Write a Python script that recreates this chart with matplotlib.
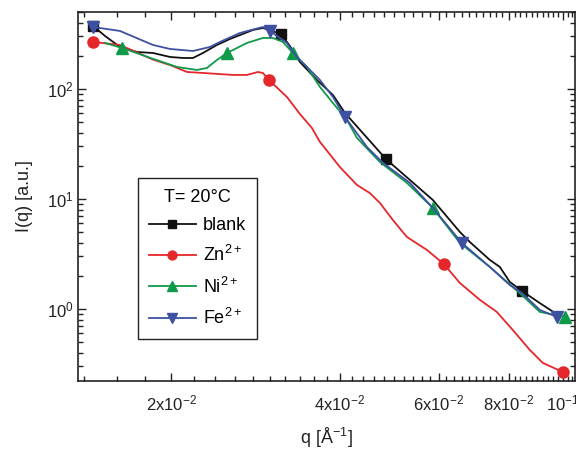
import numpy as np
import matplotlib
matplotlib.use("Agg")
import matplotlib.pyplot as plt
from matplotlib.ticker import FixedLocator, NullFormatter, LogLocator

plt.rcParams['font.family'] = ['Liberation Sans', 'DejaVu Sans']
plt.rcParams['mathtext.default'] = 'regular'

# blank
q_blank = [0.01452, 0.01525, 0.01622, 0.01739, 0.01857, 0.01992, 0.02101, 0.02189, 0.02280,
           0.02415, 0.02548, 0.02800, 0.02917, 0.03141, 0.03259, 0.03395, 0.03641, 0.03889,
           0.04086, 0.04833, 0.05333, 0.05861, 0.06550, 0.06823, 0.07406, 0.07717, 0.08040,
           0.08446, 0.09095, 0.09672]
I_blank = [373.9, 303.3, 240.9, 216.9, 212.4, 195.4, 191.3, 191.3, 212.4,
           251.2, 284.8, 343.9, 358.5, 316.2, 246.0, 176.0, 120.7, 88.2,
           60.5, 23.1, 14.9, 9.79, 5.01, 4.06, 2.79, 2.41, 1.76,
           1.46, 1.13, 0.92]

# Zn2+
q_zn = [0.01452, 0.01622, 0.01857, 0.01992, 0.02136, 0.02280, 0.02579, 0.02732, 0.02858,
        0.02917, 0.02990, 0.03219, 0.03395, 0.03567, 0.03687, 0.04002, 0.04292, 0.04526,
        0.04716, 0.04974, 0.05269, 0.05719, 0.06133, 0.06550, 0.07109, 0.07622, 0.08139,
        0.08727, 0.09206, 0.09995]
I_zn = [267.6, 251.2, 185.0, 165.2, 142.7, 139.8, 134.1, 134.1, 142.7,
        139.8, 120.7, 84.6, 59.3, 44.2, 33.0, 19.5, 13.4, 11.3,
        9.20, 6.44, 4.51, 3.44, 2.56, 1.72, 1.21, 0.939, 0.644,
        0.424, 0.323, 0.267]

# Ni2+
q_ni = [0.01525, 0.01636, 0.01857, 0.02050, 0.02225, 0.02318, 0.02415, 0.02517, 0.02732,
        0.02917, 0.03039, 0.03166, 0.03299, 0.03494, 0.03687, 0.03889, 0.04119, 0.04292,
        0.04716, 0.05269, 0.05861, 0.06550, 0.07406, 0.08446, 0.09095, 0.1008]
I_ni = [262.0, 235.9, 188.0, 158.5, 148.9, 155.2, 183.5, 212.4, 262.0,
        290.9, 290.9, 267.6, 212.4, 158.5, 104.3, 74.6, 52.3, 35.9,
        21.7, 14.0, 8.29, 3.98, 2.41, 1.34, 0.939, 0.846]

# Fe2+
q_fe = [0.01452, 0.01622, 0.01857, 0.01992, 0.02189, 0.02347, 0.02445, 0.02655, 0.02917,
        0.03002, 0.03219, 0.03354, 0.03538, 0.03687, 0.03889, 0.04086, 0.04471, 0.04775,
        0.05333, 0.05861, 0.06603, 0.07406, 0.08040, 0.08446, 0.09095, 0.09752]
I_fe = [366.1, 336.8, 251.2, 231.0, 221.5, 240.9, 267.6, 323.0, 366.1,
        336.8, 262.0, 195.4, 148.9, 120.7, 84.6, 55.7, 29.7, 21.3,
        14.0, 8.29, 3.98, 2.41, 1.65, 1.40, 0.979, 0.846]

fig = plt.figure(figsize=(5.76, 4.49), dpi=100)
ax = fig.add_axes([78/576, 1-381/449, 497/576, 369/449])

ax.plot(q_blank, I_blank, color='#111111', lw=1.3, marker='s', ms=7,
        markevery=[0, 13, 19, 27], label='blank')
ax.plot(q_zn, I_zn, color='#e5262b', lw=1.3, marker='o', ms=8,
        markevery=[0, 10, 22, 29], label='Zn$^{2+}$')
ax.plot(q_ni, I_ni, color='#0e9a48', lw=1.3, marker='^', ms=8.5,
        markevery=[1, 7, 12, 20, 25], label='Ni$^{2+}$')
ax.plot(q_fe, I_fe, color='#3d50a2', lw=1.3, marker='v', ms=8.5,
        markevery=[0, 9, 15, 20, 25], label='Fe$^{2+}$')

ax.set_xscale('log')
ax.set_yscale('log')
ax.set_xlim(0.01365, 0.1051)
ax.set_ylim(0.221, 501)

xt = [0.02, 0.04, 0.06, 0.08, 0.1]
xl = ['2x10$^{-2}$', '4x10$^{-2}$', '6x10$^{-2}$', '8x10$^{-2}$', '10$^{-1}$']
ax.xaxis.set_major_locator(FixedLocator(xt))
ax.set_xticklabels(xl)
ax.xaxis.set_minor_locator(FixedLocator(np.arange(0.014, 0.105, 0.002)))
ax.xaxis.set_minor_formatter(NullFormatter())
ax.yaxis.set_major_locator(LogLocator(base=10, numticks=10))
ax.yaxis.set_minor_locator(LogLocator(base=10, subs=np.arange(2, 10), numticks=10))
ax.yaxis.set_minor_formatter(NullFormatter())

ax.tick_params(which='both', direction='in', top=True, right=True, width=1, colors='#222222',
               labelcolor='#222222', labelsize=12)
ax.tick_params(which='major', length=6)
ax.tick_params(which='minor', length=3.5)
ax.tick_params(axis='x', pad=9)
ax.tick_params(axis='y', pad=3)
for s in ax.spines.values():
    s.set_linewidth(1.2)
    s.set_color('#222222')

ax.set_xlabel('q [Å$^{-1}$]', fontsize=13, color='#222222', labelpad=9)
ax.set_ylabel('I(q) [a.u.]', fontsize=13, color='#222222', labelpad=10)

leg = ax.legend(title='T= 20°C', loc='upper left', bbox_to_anchor=(0.121, 0.55),
                borderaxespad=0, fontsize=13, title_fontsize=13, fancybox=False,
                edgecolor='#222222', framealpha=1, handlelength=2.6, labelspacing=0.62,
                handletextpad=0.4, borderpad=0.6, markerscale=0.8)
leg.get_frame().set_linewidth(1.0)

fig.savefig('out.png', dpi=100)
